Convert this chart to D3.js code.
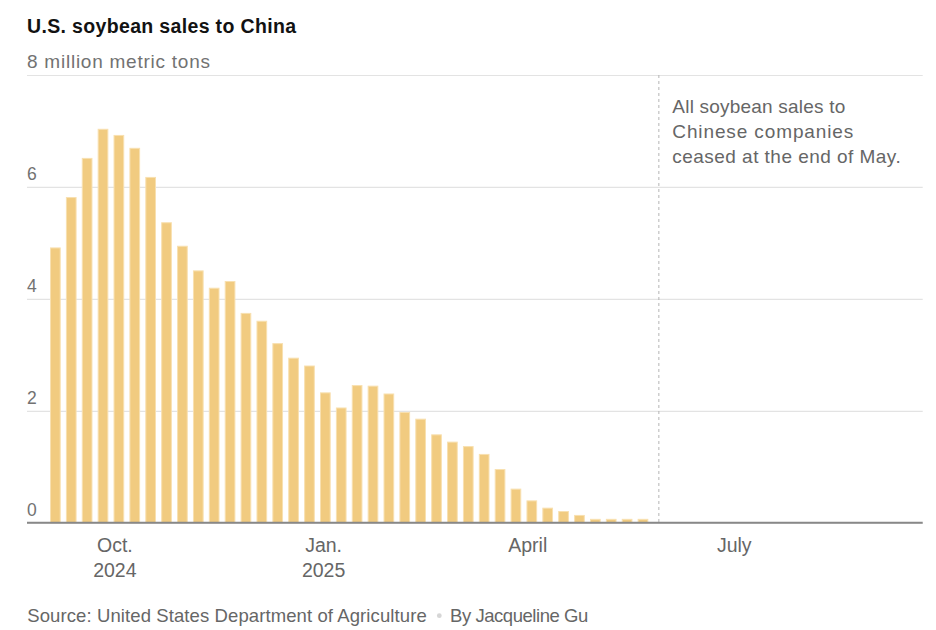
<!DOCTYPE html>
<html>
<head>
<meta charset="utf-8">
<script src="https://cdn.jsdelivr.net/npm/d3@7"></script>
<style>
  html, body { margin: 0; padding: 0; background: #fff; }
  svg { display: block; }
  text { font-family: "Liberation Sans", Arial, Helvetica, sans-serif; }
</style>
</head>
<body>
<svg id="chart" width="936" height="630"></svg>
<script>
// ---- Data ----
const weekEnding = [
  "2024-09-05","2024-09-12","2024-09-19","2024-09-26",
  "2024-10-03","2024-10-10","2024-10-17","2024-10-24","2024-10-31",
  "2024-11-07","2024-11-14","2024-11-21","2024-11-28",
  "2024-12-05","2024-12-12","2024-12-19","2024-12-26",
  "2025-01-02","2025-01-09","2025-01-16","2025-01-23","2025-01-30",
  "2025-02-06","2025-02-13","2025-02-20","2025-02-27",
  "2025-03-06","2025-03-13","2025-03-20","2025-03-27",
  "2025-04-03","2025-04-10","2025-04-17","2025-04-24",
  "2025-05-01","2025-05-08","2025-05-15","2025-05-22"
];
const salesMillionTons = [
  4.91, 5.81, 6.51, 7.03,
  6.92, 6.69, 6.17, 5.36, 4.94,
  4.50, 4.19, 4.31, 3.74,
  3.60, 3.20, 2.94, 2.80,
  2.32, 2.05, 2.45, 2.44, 2.30,
  1.97, 1.85, 1.57, 1.44,
  1.36, 1.22, 0.95, 0.60,
  0.39, 0.26, 0.20, 0.13,
  0.06, 0.06, 0.06, 0.06
];
const yTickValues = [0, 2, 4, 6, 8];
const yTickLabels = ["0", "2", "4", "6", "8 million metric tons"];
const xTickDates = ["2024-10-01", "2025-01-01", "2025-04-01", "2025-07-01"];
const xTickLabels = [["Oct.", "2024"], ["Jan.", "2025"], ["April"], ["July"]];
const cutoffDate = "2025-05-29";
const titleText = "U.S. soybean sales to China";
const noteLines = ["All soybean sales to", "Chinese companies", "ceased at the end of May."];
const sourceText = "Source: United States Department of Agriculture";
const bylineText = "By Jacqueline Gu";

// ---- Setup ----
const parse = s => { const [y, m, d] = s.split("-").map(Number); return new Date(y, m - 1, d); };
const data = weekEnding.map((d, i) => ({ date: parse(d), value: salesMillionTons[i] }));

const svg = d3.select("#chart");
const left = 27, right = 922.7;

const x = d3.scaleTime()
  .domain([new Date(2024, 7, 23, 12), new Date(2025, 8, 22, 7)])
  .range([left, right]);
const y = d3.scaleLinear().domain([0, 8]).range([522.7, 75]);

const dayPx = x(new Date(2024, 8, 12)) - x(new Date(2024, 8, 5));
const barW = dayPx * 0.61;

// ---- Y gridlines and labels ----
const yAxis = d3.axisRight(y)
  .tickValues(yTickValues)
  .tickSize(right - left)
  .tickFormat((d, i) => yTickLabels[i]);

const yg = svg.append("g")
  .attr("transform", `translate(${left},0)`)
  .call(yAxis);
yg.select(".domain").remove();
yg.selectAll(".tick line")
  .attr("stroke", "#e3e3e3")
  .attr("stroke-width", 1.2);
yg.selectAll(".tick text")
  .attr("x", 0)
  .attr("dy", -7.5)
  .attr("text-anchor", "start")
  .attr("fill", "#727272")
  .style("font-size", d => d === 8 ? "19px" : "17.5px")
  .each(function(d) { if (d === 8) d3.select(this).attr("textLength", 183); });

// ---- Cutoff dashed line ----
svg.append("line")
  .attr("x1", x(parse(cutoffDate))).attr("x2", x(parse(cutoffDate)))
  .attr("y1", y(8)).attr("y2", y(0))
  .attr("stroke", "#b5b5b5")
  .attr("stroke-width", 1)
  .attr("stroke-dasharray", "3,3");

// ---- Bars ----
svg.append("g")
  .selectAll("rect")
  .data(data)
  .join("rect")
  .attr("x", d => x(d.date) - barW / 2)
  .attr("width", barW)
  .attr("y", d => y(d.value))
  .attr("height", d => y(0) - y(d.value))
  .attr("fill", "#f1cb80")
  .attr("stroke", "#f8e0b0")
  .attr("stroke-width", 1);

// ---- X axis ----
const xAxis = d3.axisBottom(x)
  .tickValues(xTickDates.map(parse))
  .tickSize(0)
  .tickFormat("");

const xg = svg.append("g")
  .attr("transform", `translate(0,${y(0)})`)
  .call(xAxis);
xg.select(".domain")
  .attr("d", `M${left},0H${right}`)
  .attr("stroke", "#888")
  .attr("stroke-width", 2);
xg.selectAll(".tick text").remove();
xg.selectAll(".tick").each(function(d, i) {
  const t = d3.select(this).append("text")
    .attr("text-anchor", "middle")
    .attr("fill", "#666")
    .style("font-size", "19.5px");
  xTickLabels[i].forEach((line, j) => {
    t.append("tspan").attr("x", 0).attr("y", 29 + j * 25.6).text(line);
  });
});

// ---- Title ----
svg.append("text")
  .attr("x", 27).attr("y", 33.3)
  .attr("fill", "#121212")
  .style("font-size", "19.5px")
  .style("font-weight", "bold")
  .attr("textLength", 269)
  .text(titleText);

// ---- Annotation ----
const noteWidths = [173, 181, 228.4];
const note = svg.append("g").attr("fill", "#666").style("font-size", "19px");
noteLines.forEach((line, i) => {
  note.append("text")
    .attr("x", 672.3)
    .attr("y", 112.5 + i * 25)
    .attr("textLength", noteWidths[i])
    .text(line);
});

// ---- Source ----
const src = svg.append("g").attr("fill", "#666").style("font-size", "18.5px");
src.append("text").attr("x", 27.3).attr("y", 622).attr("textLength", 399.4).text(sourceText);
svg.append("circle").attr("cx", 439.3).attr("cy", 615.7).attr("r", 2.4).attr("fill", "#d6d6d6");
src.append("text").attr("x", 450).attr("y", 622).attr("textLength", 138.3).text(bylineText);
</script>
</body>
</html>
